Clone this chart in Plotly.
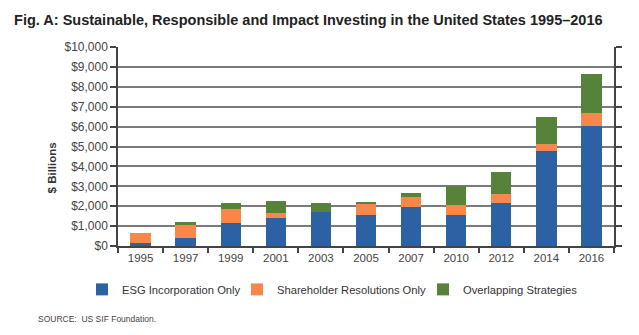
import plotly.graph_objects as go

# US SIF Foundation: sustainable, responsible and impact investing assets ($ billions)
years = ["1995", "1997", "1999", "2001", "2003", "2005", "2007", "2010", "2012", "2014", "2016"]
esg_only = [160, 410, 1160, 1400, 1700, 1550, 1950, 1540, 2150, 4750, 6030]
shareholder_only = [470, 630, 680, 260, 0, 550, 530, 500, 450, 380, 640]
overlapping = [0, 150, 300, 620, 450, 130, 200, 1000, 1110, 1330, 1960]

y_ticks = list(range(0, 10001, 1000))
y_tick_text = [f"${v:,}" for v in y_ticks]

FONT = "Liberation Sans, Arial, sans-serif"
BLUE = "#2C62A3"
ORANGE = "#F5884A"
GREEN = "#56823A"

series = [
    ("ESG Incorporation Only", esg_only, BLUE, "legend"),
    ("Shareholder Resolutions Only", shareholder_only, ORANGE, "legend2"),
    ("Overlapping Strategies", overlapping, GREEN, "legend3"),
]

fig = go.Figure()
for name, vals, color, leg in series:
    fig.add_trace(go.Bar(
        x=years, y=vals, name=name, legend=leg,
        marker=dict(color=color, line=dict(width=0)),
        hoverinfo="x+y+name",
    ))

# one legend box per series so the key row sits evenly under the plot
legend_x = {"legend": -0.0726, "legend2": 0.2399, "legend3": 0.6149}
legend_style = {
    key: dict(
        orientation="h",
        x=xpos, xanchor="left",
        y=-0.218, yanchor="middle",
        font=dict(family=FONT, size=11.2, color="#333"),
        itemwidth=30,
        bgcolor="rgba(0,0,0,0)",
    )
    for key, xpos in legend_x.items()
}

fig.update_layout(
    barmode="stack",
    bargap=0.55,
    width=639, height=335,
    margin=dict(l=118, r=25, t=47, b=89),
    paper_bgcolor="white",
    plot_bgcolor="white",
    font=dict(family=FONT, size=12, color="#444"),
    title=dict(
        text="<b>Fig. A: Sustainable, Responsible and Impact Investing in the United States 1995–2016</b>",
        x=0.022, xanchor="left", y=0.94, yanchor="middle",
        font=dict(family=FONT, size=14.5, color="#222"),
    ),
    showlegend=True,
    **legend_style,
    xaxis=dict(
        type="category",
        showgrid=False,
        showline=True, linecolor="#444", linewidth=1.5,
        ticks="outside", tickson="boundaries", ticklen=5, tickcolor="#444", tickwidth=1.5,
        tickfont=dict(family=FONT, size=11.5, color="#444"),
        mirror=False,
    ),
    yaxis=dict(
        range=[0, 10000],
        tickvals=y_ticks, ticktext=y_tick_text,
        showgrid=True, gridcolor="#7a7a7a", gridwidth=1.5,
        showline=True, linecolor="#444", linewidth=1.5,
        ticks="outside", ticklen=6, tickcolor="#444", tickwidth=1.5,
        mirror="ticks",
        zeroline=False,
        tickfont=dict(family=FONT, size=12, color="#444"),
    ),
    annotations=[
        dict(
            text="<b>$ Billions</b>", textangle=-90,
            xref="paper", yref="paper", x=-0.133, y=0.39,
            xanchor="center", yanchor="middle", showarrow=False,
            font=dict(family=FONT, size=11.5, color="#333"),
        ),
        dict(
            text="SOURCE:  US SIF Foundation.",
            xref="paper", yref="paper", x=-0.165, y=-0.368,
            xanchor="left", yanchor="middle", showarrow=False,
            font=dict(family=FONT, size=8.5, color="#444"),
        ),
    ],
)

fig.write_html("out.html")
